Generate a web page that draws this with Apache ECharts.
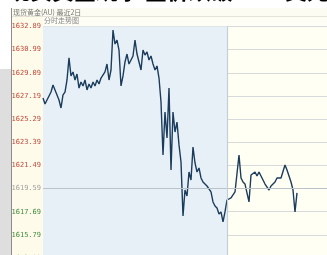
<!DOCTYPE html>
<html><head><meta charset="utf-8">
<script src="https://cdn.jsdelivr.net/npm/echarts@6/dist/echarts.min.js"></script>
<style>html,body{margin:0;padding:0;background:#fff}#c{width:327px;height:255px}</style>
</head><body><div id="c"></div>
<script>
// price series, day 1 (previous session) and day 2 (current session)
const day1 = [1627.02,1626.53,1626.86,1627.19,1627.51,1628.09,1627.68,1627.84,1626.86,1626.20,
1627.27,1627.51,1628.50,1630.31,1628.83,1629.16,1628.50,1628.99,1627.84,1628.34,
1628.01,1628.50,1627.68,1628.17,1627.84,1628.34,1628.01,1628.50,1628.17,1628.66,
1628.50,1629.16,1629.81,1628.50,1629.32,1632.60,1631.45,1631.78,1630.96,1628.01,
1628.83,1629.98,1630.63,1629.81,1629.65,1630.47,1631.78,1630.63,1629.98,1629.32,
1630.96,1630.55,1630.80,1630.14,1630.47,1629.81,1629.32,1629.65,1628.66,1626.69,
1622.34,1625.87,1623.74,1627.84,1621.11,1625.87,1624.23,1625.05,1623.17,1621.77,
1617.34,1619.47,1618.98,1620.95,1620.29,1623.00,1621.69,1620.95,1621.28,1620.46,
1620.13,1620.29,1619.80,1619.64,1619.31,1618.49,1618.16,1617.99,1617.50,1617.67,
1616.85,1617.67];
const day2 = [1618.65,1618.49,1618.82,1618.98,1619.31,1619.47,1622.34,1620.46,1620.13,1619.96,
1619.80,1618.49,1620.70,1620.62,1620.95,1620.62,1620.95,1620.62,1620.29,1619.96,
1619.80,1619.47,1619.80,1619.80,1620.13,1620.46,1620.62,1620.46,1620.62,1621.52,
1621.11,1620.62,1620.13,1619.47,1617.67,1619.23];
const totalSlots = 143;            // time slots visible in the window
const prevClose = 1619.59;
const yMin = 1613.89, yMax = 1632.89, yStep = 1.9;
const titleText = '现货黄金(AU) 最近2日';
const subTitleText = '分时走势图';
const headline = '现货黄金跳水 金价跌破1620美元关口';

const prices = day1.concat(day2);
const cats = [];
for (let i = 0; i < totalSlots; i++) cats.push(String(i));

const chart = echarts.init(document.getElementById('c'), null, {renderer: 'canvas'});
chart.setOption({
  backgroundColor: '#fffef6',
  animation: false,
  graphic: [
    {type: 'rect', z: -10, shape: {x: 0, y: 0, width: 327, height: 8}, style: {fill: '#ffffff'}},
    {type: 'text', z: 5, left: 8, top: -20, style: {text: headline, font: 'bold 22px "Noto Sans CJK SC"', fill: '#000'}},
    {type: 'rect', z: -10, shape: {x: 0, y: 8, width: 12, height: 61}, style: {fill: '#ffffff'}},
    {type: 'rect', z: -10, shape: {x: 0, y: 69, width: 11, height: 186}, style: {fill: '#dedede'}},
    {type: 'rect', z: -10, shape: {x: 12, y: 8, width: 315, height: 8}, style: {fill: '#fdfcf2'}},
    {type: 'line', z: -5, shape: {x1: 12, y1: 16.5, x2: 327, y2: 16.5}, style: {stroke: '#e6e4d8', lineWidth: 1}},
    {type: 'rect', z: -10, shape: {x: 12, y: 17, width: 31, height: 238}, style: {fill: '#fffbea'}},
    {type: 'line', z: -5, shape: {x1: 11.5, y1: 8, x2: 11.5, y2: 255}, style: {stroke: '#8c8c8c', lineWidth: 1}},
    {type: 'text', z: 5, left: 13, top: 8.5, style: {text: titleText, font: '7px "Noto Sans CJK SC"', fill: '#777'}},
    {type: 'text', z: 5, left: 44, top: 17, style: {text: subTitleText, font: '7px "Noto Sans CJK SC"', fill: '#888'}}
  ],
  grid: {left: 43, width: 284, top: 26.5, height: 231.5, outerBoundsMode: 'none', containLabel: false,
         show: true, backgroundColor: '#fffff3', borderWidth: 0},
  xAxis: {
    type: 'category', data: cats, boundaryGap: false,
    axisLine: {show: false}, axisTick: {show: false}, axisLabel: {show: false},
    splitLine: {show: false},
    splitArea: {show: true, interval: day1.length - 1, areaStyle: {color: ['#e8f0f7', '#fffff3']}}
  },
  yAxis: {
    type: 'value', min: yMin, max: yMax, interval: yStep,
    axisLine: {show: false}, axisTick: {show: false},
    splitLine: {show: true, lineStyle: {color: '#d6dadb', width: 1}},
    axisLabel: {
      margin: 2, fontSize: 7, fontFamily: '"DejaVu Sans Mono"', padding: [4, 0, 0, 0],
      formatter: v => v.toFixed(2),
      color: v => (v > prevClose + 0.01 ? '#c0493c' : (v < prevClose - 0.01 ? '#3f8a3c' : '#a0a0a0'))
    }
  },
  series: [{
    type: 'line', data: prices, showSymbol: false, symbol: 'none',
    lineStyle: {color: '#1b3c5c', width: 1.4},
    markLine: {
      silent: true, symbol: 'none', label: {show: false}, animation: false,
      data: [
        {yAxis: prevClose, lineStyle: {color: '#bcc3c8', width: 1.2, type: 'solid'}},
        {xAxis: day1.length, lineStyle: {color: '#c3d0dc', width: 1.2, type: 'solid'}}
      ]
    }
  }]
});
</script></body></html>
